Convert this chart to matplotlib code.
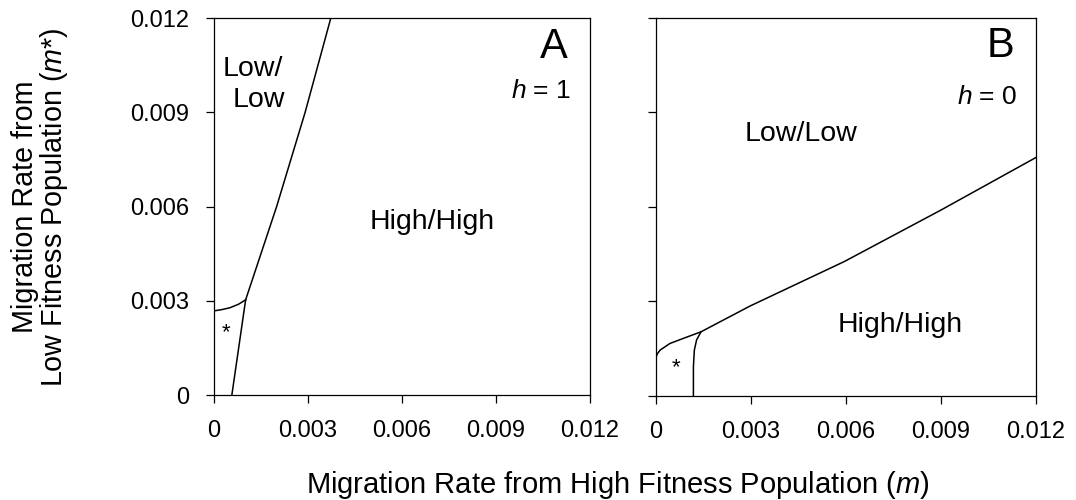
import matplotlib
matplotlib.use("Agg")
import matplotlib.pyplot as plt

plt.rcParams['font.family'] = ['Liberation Sans', 'DejaVu Sans']
plt.rcParams['mathtext.fontset'] = 'custom'
plt.rcParams['mathtext.rm'] = 'Liberation Sans'
plt.rcParams['mathtext.it'] = 'Liberation Sans:italic'

ticks = [0, 0.003, 0.006, 0.009, 0.012]
tick_labels = ['0', '0.003', '0.006', '0.009', '0.012']

# panel A (h = 1): boundaries between equilibrium regions
a_upper_m = [0.00101, 0.00200, 0.00291, 0.00373]
a_upper_ms = [0.00303, 0.00600, 0.00900, 0.01200]
a_arc_m = [0.0, 0.00025, 0.00051, 0.00078, 0.00101]
a_arc_ms = [0.00268, 0.00272, 0.00278, 0.00289, 0.00303]
a_lower_m = [0.00057, 0.00101]
a_lower_ms = [0.0, 0.00303]

# panel B (h = 0)
b_upper_m = [0.0, 0.00004, 0.00013, 0.00044, 0.00086, 0.00142,
             0.00297, 0.00594, 0.00900, 0.01200]
b_upper_ms = [0.00122, 0.00133, 0.00145, 0.00166, 0.00182, 0.00203,
              0.00285, 0.00426, 0.00590, 0.00757]
b_lower_m = [0.00118, 0.00118, 0.00121, 0.00128, 0.00142]
b_lower_ms = [0.0, 0.00092, 0.00145, 0.00177, 0.00203]

fig = plt.figure(figsize=(10.76, 5.0), dpi=100)
axA = fig.add_axes([0.1989, 0.210, 0.349, 0.7534])
axB = fig.add_axes([0.6097, 0.2086, 0.3532, 0.7554])

for ax in (axA, axB):
    ax.set_xlim(0, 0.012)
    ax.set_ylim(0, 0.012)
    ax.set_xticks(ticks)
    ax.set_xticklabels(tick_labels)
    ax.set_yticks(ticks)
    ax.tick_params(direction='out', length=6, width=0.9, labelsize=17, pad=12)
    for s in ax.spines.values():
        s.set_linewidth(0.9)

axA.set_yticklabels(tick_labels)
axB.set_yticklabels([])

lw = 1.1
axA.plot(a_upper_m, a_upper_ms, 'k-', lw=lw)
axA.plot(a_arc_m, a_arc_ms, 'k-', lw=lw)
axA.plot(a_lower_m, a_lower_ms, 'k-', lw=lw)

axB.plot(b_upper_m, b_upper_ms, 'k-', lw=lw)
axB.plot(b_lower_m, b_lower_ms, 'k-', lw=lw)

# region labels
lab = 20.5
axA.text(0.0113, 0.0111, 'A', fontsize=30, ha='right', va='center')
axA.text(0.0114, 0.0097, r'$h$ = 1', fontsize=19, ha='right', va='center')
axA.text(0.0022, 0.0104, 'Low/', fontsize=lab, ha='right', va='center')
axA.text(0.00227, 0.0094, 'Low', fontsize=lab, ha='right', va='center')
axA.text(0.00697, 0.0055, 'High/High', fontsize=lab, ha='center', va='center')
axA.text(0.00038, 0.0020, '*', fontsize=16, ha='center', va='center')

axB.text(0.0113, 0.0111, 'B', fontsize=30, ha='right', va='center')
axB.text(0.0114, 0.0095, r'$h$ = 0', fontsize=19, ha='right', va='center')
axB.text(0.00458, 0.0083, 'Low/Low', fontsize=lab, ha='center', va='center')
axB.text(0.0077, 0.00225, 'High/High', fontsize=lab, ha='center', va='center')
axB.text(0.00063, 0.0009, '*', fontsize=16, ha='center', va='center')

fig.text(0.0376, 0.586, 'Migration Rate from\nLow Fitness Population ($m$*)',
         rotation=90, ha='center', va='center', fontsize=20.7, linespacing=0.95)
fig.text(0.574, 0.014, 'Migration Rate from High Fitness Population ($m$)',
         ha='center', va='baseline', fontsize=21)

fig.savefig('out.png', dpi=100)
